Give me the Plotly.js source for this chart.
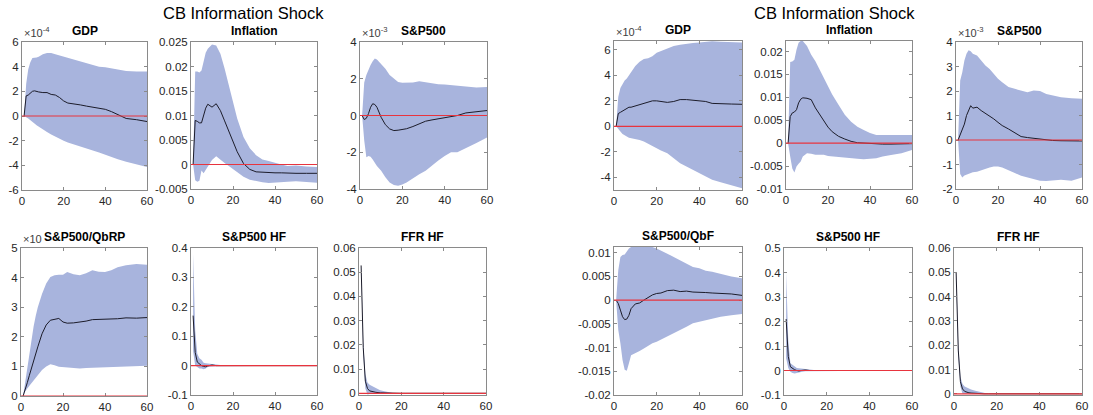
<!DOCTYPE html>
<html>
<head>
<meta charset="utf-8">
<script src="https://cdn.plot.ly/plotly-3.0.1.min.js"></script>
<style>html,body{margin:0;padding:0;background:#fff;}#chart{width:1093px;height:415px;}</style>
</head>
<body>
<div id="chart"></div>
<script>
// ---------- data ----------
const horizon = [1,2,3,4,5,6,7,8,10,12,14,16,18,20,22,25,28,31,34,37,40,43,46,50,55,60];
const xTicks = [0,20,40,60];
const mainTitle = "CB Information Shock";

// Left panel
const gdpL_med = [0,1.63,1.7,1.85,2.0,2.04,1.98,1.95,1.9,1.9,1.75,1.7,1.5,1.22,1.05,1.0,0.9,0.8,0.7,0.6,0.54,0.35,0.1,-0.2,-0.3,-0.45];
const gdpL_hi  = [0,2.6,3.8,4.36,4.7,4.7,4.75,4.8,5.0,5.1,5.1,5.0,4.9,4.8,4.7,4.55,4.4,4.3,4.1,4.0,3.95,3.85,3.75,3.65,3.6,3.6];
const gdpL_lo  = [0,-0.1,-0.2,-0.3,-0.45,-0.6,-0.75,-0.9,-1.1,-1.3,-1.5,-1.7,-1.85,-2.0,-2.15,-2.35,-2.5,-2.65,-2.8,-2.95,-3.13,-3.3,-3.5,-3.7,-3.95,-4.14];

const infL_med = [0,0.009,0.0088,0.0085,0.0085,0.010,0.0115,0.0123,0.0117,0.0124,0.011,0.0089,0.0068,0.0046,0.0026,0.0002,-0.001,-0.0015,-0.0016,-0.0017,-0.0017,-0.0017,-0.0018,-0.0018,-0.0018,-0.0018];
const infL_hi  = [0,0.019,0.019,0.0188,0.0192,0.021,0.0228,0.0236,0.0245,0.0243,0.0226,0.0196,0.0162,0.0128,0.0094,0.0056,0.0033,0.0019,0.001,0.0007,0.0003,0.0,-0.0003,-0.0002,-0.0004,-0.0005];
const infL_lo  = [0,-0.0032,-0.0035,-0.0033,-0.0012,-0.0018,-0.001,-0.0005,0.0009,0.0017,0.0011,0.0003,-0.0003,-0.0008,-0.0015,-0.0025,-0.0031,-0.0034,-0.0036,-0.0038,-0.0037,-0.0036,-0.0035,-0.0034,-0.0035,-0.0037];

const spL_med = [0,-0.22,-0.15,0.1,0.45,0.64,0.6,0.45,-0.1,-0.5,-0.73,-0.82,-0.8,-0.78,-0.72,-0.6,-0.45,-0.31,-0.24,-0.17,-0.13,-0.06,0.0,0.14,0.22,0.27];
const spL_hi  = [0,1.8,2.2,2.5,2.75,2.95,3.1,3.05,2.8,2.55,2.2,2.0,1.82,1.78,1.78,1.8,1.87,1.8,1.75,1.7,1.69,1.65,1.6,1.55,1.52,1.55];
const spL_lo  = [0,-1.36,-2.27,-2.2,-2.25,-2.4,-2.55,-2.75,-3.0,-3.36,-3.64,-3.78,-3.82,-3.75,-3.65,-3.45,-3.2,-3.0,-2.75,-2.45,-2.2,-2.0,-2.0,-1.8,-1.5,-1.2];

const qbrp_med = [0,0.2,0.45,0.7,0.95,1.12,1.4,1.66,2.1,2.4,2.56,2.6,2.62,2.5,2.46,2.47,2.49,2.53,2.58,2.59,2.6,2.59,2.61,2.64,2.63,2.65];
const qbrp_hi  = [0,0.5,0.9,1.4,1.9,2.35,2.7,3.0,3.45,3.8,4.02,4.08,4.1,4.1,4.19,4.11,4.08,4.15,4.25,4.2,4.19,4.25,4.35,4.42,4.46,4.43];
const qbrp_lo  = [0,0.15,0.25,0.35,0.45,0.54,0.62,0.7,0.88,1.0,1.07,1.04,0.99,0.97,0.97,0.95,0.93,0.95,0.96,0.97,0.97,0.98,1.0,1.0,1.01,1.02];

const hfL_med = [0.17,0.045,0.012,0.005,0.0,-0.003,-0.004,-0.001,0.002,0.0,0,0,0,0,0,0,0,0,0,0,0,0,0,0,0,0];
const hfL_hi  = [0.38,0.12,0.04,0.025,0.02,0.01,0.008,0.007,0.005,0.003,0.001,0,0,0,0,0,0,0,0,0,0,0,0,0,0,0];
const hfL_lo  = [0.05,0.0,-0.005,-0.01,-0.01,-0.012,-0.01,-0.005,-0.003,-0.002,0,0,0,0,0,0,0,0,0,0,0,0,0,0,0,0];

const ffrL_med = [0.0528,0.019,0.005,0.002,0.001,0.0007,0.0005,0.0004,0.0002,0.0001,0,0,0,0,0,0,0,0,0,0,0,0,0,0,0,0];
const ffrL_hi  = [0.053,0.021,0.008,0.0045,0.0035,0.003,0.0025,0.002,0.0013,0.0008,0.0004,0.0001,0,0,0,0,0,0,0,0,0,0,0,0,0,0];
const ffrL_lo  = [0.0525,0.017,0.002,-0.0005,-0.0003,0,0,0,0,0,0,0,0,0,0,0,0,0,0,0,0,0,0,0,0,0];

// Right panel
const gdpR_med = [0,1.0,1.1,1.2,1.3,1.4,1.5,1.5,1.6,1.75,1.86,1.93,2.0,2.0,1.95,1.88,1.95,2.1,2.1,2.05,1.99,1.95,1.8,1.8,1.75,1.73];
const gdpR_hi  = [0,2.3,3.0,3.3,3.6,3.76,4.0,4.3,4.73,5.07,5.28,5.35,5.5,5.78,5.9,6.1,6.3,6.4,6.5,6.55,6.58,6.62,6.69,6.65,6.62,6.58];
const gdpR_lo  = [0,-0.2,-0.4,-0.6,-0.7,-0.8,-0.9,-0.95,-1.0,-1.07,-1.2,-1.33,-1.5,-1.73,-1.9,-2.12,-2.5,-2.9,-3.16,-3.4,-3.69,-3.95,-4.2,-4.4,-4.6,-4.86];

const infR_med = [0,0.0058,0.0066,0.0068,0.0073,0.0088,0.0096,0.0099,0.0098,0.0095,0.0077,0.0062,0.0047,0.0035,0.0025,0.0015,0.0009,0.0004,0.0001,0,0,-0.0001,-0.0002,-0.0002,-0.0002,-0.0001];
const infR_hi  = [0,0.0177,0.0178,0.0182,0.0204,0.0219,0.0223,0.0223,0.0212,0.0193,0.0179,0.016,0.0142,0.0124,0.0106,0.0084,0.0062,0.0047,0.0036,0.0029,0.0022,0.0018,0.0018,0.0018,0.0018,0.0018];
const infR_lo  = [0,-0.0029,-0.0055,-0.0064,-0.0051,-0.0045,-0.004,-0.0029,-0.0022,-0.0023,-0.0025,-0.0025,-0.0025,-0.0028,-0.003,-0.0031,-0.0032,-0.0033,-0.0034,-0.0035,-0.0034,-0.0033,-0.0029,-0.0026,-0.0022,-0.0015];

const spR_med = [0,0.2,0.38,0.65,1.0,1.23,1.4,1.3,1.34,1.2,1.09,1.0,0.86,0.72,0.59,0.45,0.29,0.14,0.1,0.07,0.03,0.0,-0.02,-0.03,-0.05,-0.04];
const spR_hi  = [0,2.43,2.77,3.25,3.52,3.66,3.62,3.52,3.45,3.25,3.04,2.9,2.7,2.5,2.36,2.16,2.09,2.03,1.95,2.02,2.0,1.88,1.82,1.75,1.7,1.68];
const spR_lo  = [0,-1.39,-1.53,-1.45,-1.4,-1.38,-1.35,-1.32,-1.3,-1.25,-1.19,-1.12,-1.08,-1.08,-1.12,-1.23,-1.35,-1.46,-1.55,-1.6,-1.66,-1.67,-1.66,-1.62,-1.66,-1.53];

const qbf_med = [0,-0.0007,-0.0021,-0.0035,-0.0041,-0.004,-0.0032,-0.0018,-0.0008,-0.0006,0.0,0.0006,0.0011,0.0014,0.0015,0.002,0.0021,0.0018,0.0019,0.0017,0.0017,0.0016,0.0015,0.0014,0.0013,0.001];
const qbf_hi  = [0,0.0063,0.0091,0.0095,0.0096,0.0102,0.0109,0.0112,0.0113,0.0113,0.0113,0.0113,0.0112,0.0109,0.0105,0.0098,0.0091,0.0084,0.0077,0.007,0.0067,0.0062,0.006,0.0055,0.005,0.0046];
const qbf_lo  = [0,-0.0063,-0.0091,-0.0126,-0.0147,-0.0149,-0.0133,-0.0116,-0.0111,-0.0107,-0.0102,-0.0097,-0.0091,-0.0088,-0.0084,-0.0077,-0.007,-0.0063,-0.0056,-0.0049,-0.0046,-0.0042,-0.0039,-0.0035,-0.0032,-0.0029];

const hfR_med = [0.21,0.057,0.015,0.008,0.003,0.0,-0.002,0.0,0.002,0.0,0,0,0,0,0,0,0,0,0,0,0,0,0,0,0,0];
const hfR_hi  = [0.40,0.12,0.03,0.022,0.015,0.01,0.009,0.008,0.006,0.003,0.001,0,0,0,0,0,0,0,0,0,0,0,0,0,0,0];
const hfR_lo  = [0.05,0.01,-0.005,-0.01,-0.012,-0.01,-0.008,-0.006,-0.003,-0.002,0,0,0,0,0,0,0,0,0,0,0,0,0,0,0,0];

const ffrR_med = [0.05,0.018,0.005,0.002,0.001,0.0006,0.0004,0.0003,0.0001,0,0,0,0,0,0,0,0,0,0,0,0,0,0,0,0,0];
const ffrR_hi  = [0.051,0.02,0.007,0.004,0.003,0.0025,0.002,0.0018,0.0012,0.0008,0.0003,0,0,0,0,0,0,0,0,0,0,0,0,0,0,0];
const ffrR_lo  = [0.049,0.016,0.003,0.0,0,0,0,0,0,0,0,0,0,0,0,0,0,0,0,0,0,0,0,0,0,0];

// tick labels
const ticksGdpL = ["-6","-4","-2","0","2","4","6"];
const ticksInfL = ["-0.005","0","0.005","0.01","0.015","0.02","0.025"];
const ticksSpL  = ["-4","-2","0","2","4"];
const ticksQbrp = ["0","1","2","3","4","5"];
const ticksHfL  = ["-0.1","0","0.1","0.2","0.3","0.4"];
const ticksFfr  = ["0","0.01","0.02","0.03","0.04","0.05","0.06"];
const ticksGdpR = ["-4","-2","0","2","4","6"];
const ticksInfR = ["-0.01","-0.005","0","0.005","0.01","0.015","0.02"];
const ticksSpR  = ["-2","-1","0","1","2","3","4"];
const ticksQbf  = ["-0.02","-0.015","-0.01","-0.005","0","0.005","0.01"];
const ticksHfR  = ["-0.1","0","0.1","0.2","0.3","0.4","0.5"];

// ---------- layout / drawing ----------
const W = 1093, H = 415;
const BAND = "rgb(168,180,221)";
const FONT = "Liberation Sans, Arial, Helvetica, sans-serif";

const panels = [
  {t:"GDP", med:gdpL_med, hi:gdpL_hi, lo:gdpL_lo, exp:"×10<sup>-4</sup>", r:[-6,6], tt:ticksGdpL, box:[22,147,42,190]},
  {t:"Inflation", med:infL_med, hi:infL_hi, lo:infL_lo, exp:null, r:[-0.005,0.025], tt:ticksInfL, box:[191,317,42,189]},
  {t:"S&P500", med:spL_med, hi:spL_hi, lo:spL_lo, exp:"×10<sup>-3</sup>", r:[-4,4], tt:ticksSpL, box:[360,487,42,189]},
  {t:"S&P500/QbRP", med:qbrp_med, hi:qbrp_hi, lo:qbrp_lo, exp:"×10", r:[0,5], tt:ticksQbrp, box:[21,147,248,396]},
  {t:"S&P500 HF", med:hfL_med, hi:hfL_hi, lo:hfL_lo, exp:null, r:[-0.1,0.4], tt:ticksHfL, box:[191,317,248,395]},
  {t:"FFR HF", med:ffrL_med, hi:ffrL_hi, lo:ffrL_lo, exp:null, r:[-0.0007,0.06], tt:ticksFfr, box:[359,486,248,395]},
  {t:"GDP", med:gdpR_med, hi:gdpR_hi, lo:gdpR_lo, exp:"×10<sup>-4</sup>", r:[-5.0,6.7], tt:ticksGdpR, box:[614,742,41,190]},
  {t:"Inflation", med:infR_med, hi:infR_hi, lo:infR_lo, exp:null, r:[-0.01,0.0223], tt:ticksInfR, box:[786,912,41,189]},
  {t:"S&P500", med:spR_med, hi:spR_hi, lo:spR_lo, exp:"×10<sup>-3</sup>", r:[-2,4], tt:ticksSpR, box:[956,1082,42,189]},
  {t:"S&P500/QbF", med:qbf_med, hi:qbf_hi, lo:qbf_lo, exp:null, r:[-0.02,0.0112], tt:ticksQbf, box:[614,742,247,395]},
  {t:"S&P500 HF", med:hfR_med, hi:hfR_hi, lo:hfR_lo, exp:null, r:[-0.1,0.5], tt:ticksHfR, box:[784,912,248,395]},
  {t:"FFR HF", med:ffrR_med, hi:ffrR_hi, lo:ffrR_lo, exp:null, r:[-0.0005,0.06], tt:ticksFfr, box:[954,1082,248,395]}
];

const traces = [];
const layout = {
  width: W, height: H,
  margin: {l:0, r:0, t:0, b:0},
  paper_bgcolor: "#fff", plot_bgcolor: "#fff",
  showlegend: false,
  font: {family: FONT, size: 11, color: "#262626"},
  annotations: [], shapes: []
};

panels.forEach((p, i) => {
  const k = i + 1;
  const xa = "x" + (k === 1 ? "" : k), ya = "y" + (k === 1 ? "" : k);
  const xname = "xaxis" + (k === 1 ? "" : k), yname = "yaxis" + (k === 1 ? "" : k);
  const [x0, x1, y0, y1] = p.box;
  const tv = p.tt.map(Number);
  const common = {
    showline: true, mirror: "ticks", linecolor: "#8a8a8a", linewidth: 1,
    ticks: "inside", ticklen: 3, tickcolor: "#8a8a8a", tickwidth: 1,
    showgrid: false, zeroline: false, fixedrange: true,
    tickfont: {family: FONT, size: 11.5, color: "#262626"}
  };
  layout[xname] = Object.assign({}, common, {
    domain: [x0 / W, x1 / W], anchor: ya, range: [0, 60],
    tickmode: "array", tickvals: xTicks, ticktext: xTicks.map(String)
  });
  layout[yname] = Object.assign({}, common, {
    domain: [1 - y1 / H, 1 - y0 / H], anchor: xa, range: p.r,
    tickmode: "array", tickvals: tv, ticktext: p.tt
  });
  // band
  traces.push({
    x: horizon.concat(horizon.slice().reverse()),
    y: p.hi.concat(p.lo.slice().reverse()),
    xaxis: xa, yaxis: ya, type: "scatter", mode: "lines",
    fill: "toself", fillcolor: BAND, line: {width: 0, color: BAND},
    hoverinfo: "skip"
  });
  // zero line
  layout.shapes.push({
    type: "line", xref: xa, yref: ya, x0: 0, x1: 60, y0: 0, y1: 0,
    line: {color: "rgb(232,52,62)", width: 1.2}, layer: "above"
  });
  // median
  traces.push({
    x: horizon, y: p.med, xaxis: xa, yaxis: ya, type: "scatter", mode: "lines",
    line: {color: "#1c1c2a", width: 1}, hoverinfo: "skip"
  });
  // subplot title
  layout.annotations.push({
    text: "<b>" + p.t.replace("&", "&amp;") + "</b>", xref: "paper", yref: "paper",
    x: ((x0 + x1) / 2) / W, y: 1 - (y0 - 2) / H, xanchor: "center", yanchor: "bottom",
    showarrow: false, font: {family: FONT, size: 12, color: "#000"}
  });
  if (p.exp) {
    layout.annotations.push({
      text: p.exp, xref: "paper", yref: "paper",
      x: x0 / W, y: 1 - (y0 - 1) / H, xanchor: "left", yanchor: "bottom",
      showarrow: false, font: {family: FONT, size: 11, color: "#404040"}
    });
  }
});

// main titles
[[243, mainTitle], [834, mainTitle]].forEach(([cx, txt]) => {
  layout.annotations.push({
    text: txt, xref: "paper", yref: "paper", x: cx / W, y: 1 - 2 / H,
    xanchor: "center", yanchor: "top", showarrow: false,
    font: {family: FONT, size: 16.5, color: "#000"}
  });
});

Plotly.newPlot("chart", traces, layout, {staticPlot: true, displayModeBar: false});
</script>
</body>
</html>
